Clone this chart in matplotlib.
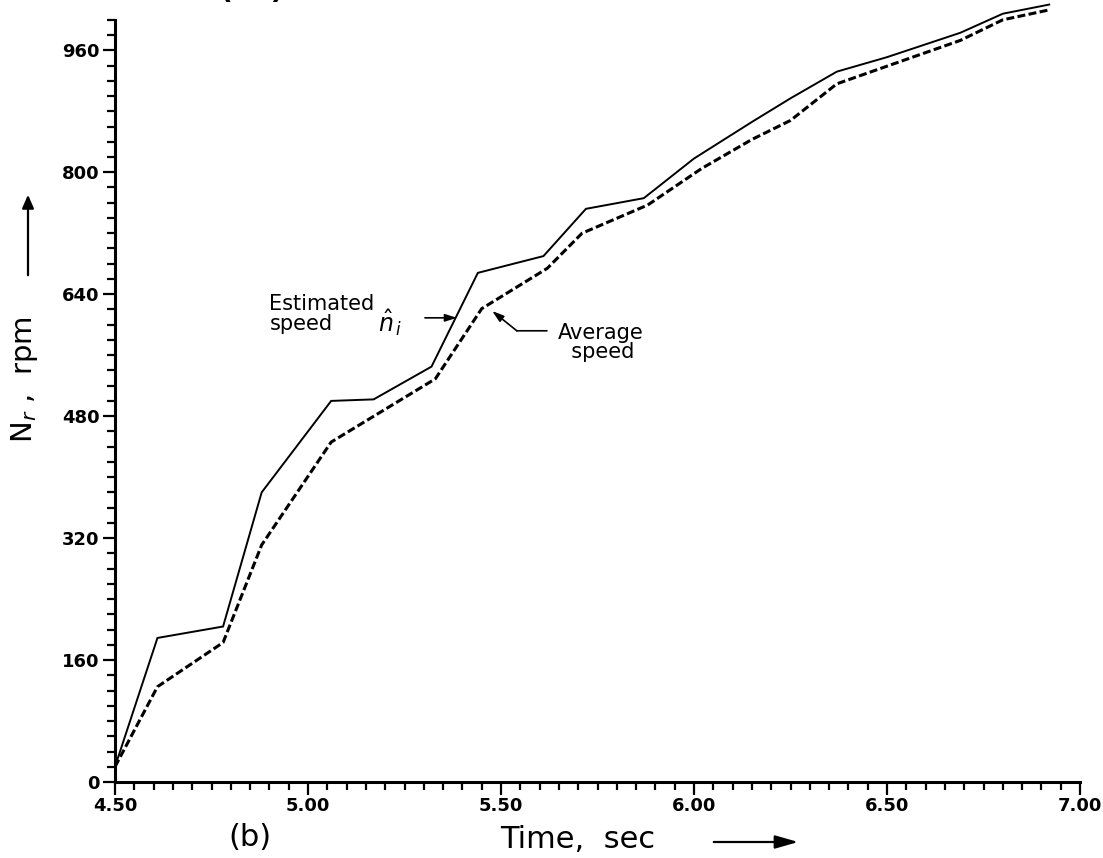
import matplotlib
matplotlib.use("Agg")
import matplotlib.pyplot as plt
from matplotlib.patches import FancyArrowPatch
from matplotlib.ticker import MultipleLocator, FixedLocator

plt.rcParams['font.family'] = ['DejaVu Sans']
plt.rcParams['mathtext.fontset'] = 'dejavusans'

# Rotor speed during run-up, t = 4.5 ... 7.0 s
time_est = [4.50, 4.61, 4.78, 4.88, 5.06, 5.17, 5.32, 5.44, 5.61, 5.72,
            5.87, 6.00, 6.15, 6.25, 6.37, 6.50, 6.69, 6.80, 6.92]
speed_est = [20, 189, 204, 380, 500, 502, 545, 668, 690, 752,
             766, 818, 866, 897, 932, 951, 983, 1008, 1020]

time_avg = [4.50, 4.61, 4.78, 4.88, 5.06, 5.33, 5.45, 5.62, 5.71, 5.88,
            6.02, 6.15, 6.25, 6.37, 6.69, 6.80, 6.92]
speed_avg = [20, 125, 183, 311, 446, 529, 621, 674, 720, 757,
             805, 843, 868, 916, 973, 1000, 1013]

x_major = [4.50, 5.00, 5.50, 6.00, 6.50, 7.00]
x_labels = ['4.50', '5.00', '5.50', '6.00', '6.50', '7.00']
y_major = [0, 160, 320, 480, 640, 800, 960]
y_labels = ['0', '160', '320', '480', '640', '800', '960']

W, H = 1103, 858
fig = plt.figure(figsize=(W / 100, H / 100), dpi=100)
ax = fig.add_axes([115 / W, (H - 782) / H, (1080 - 115) / W, 782 / H])

ax.plot(time_est, speed_est, color='black', lw=1.4, solid_joinstyle='miter')
ax.plot(time_avg, speed_avg, color='black', lw=2.2, dashes=(2.6, 1.1))

ax.set_xlim(4.5, 7.0)
ax.set_ylim(0, 1026)

for side in ('top', 'right'):
    ax.spines[side].set_visible(False)
for side in ('left', 'bottom'):
    ax.spines[side].set_linewidth(2.2)
ax.spines['left'].set_bounds(0, 1000)

ax.xaxis.set_major_locator(FixedLocator(x_major))
ax.set_xticklabels(x_labels)
ax.xaxis.set_minor_locator(MultipleLocator(0.05))
ax.yaxis.set_major_locator(FixedLocator(y_major))
ax.set_yticklabels(y_labels)
ax.yaxis.set_minor_locator(FixedLocator(list(range(0, 1001, 20))))

ax.tick_params(axis='both', which='major', direction='out', length=9,
               width=1.6, pad=2, labelsize=13)
ax.tick_params(axis='both', which='minor', direction='out', length=6,
               width=1.6)
for lab in ax.get_xticklabels() + ax.get_yticklabels():
    lab.set_fontweight('bold')

# curve annotations
ax.text(4.90, 614, 'Estimated\nspeed', fontsize=15, ha='left', va='center',
        linespacing=0.95)
ax.text(5.212, 602, r'$\hat{n}_{\,i}$', fontsize=17, ha='center', va='center')
ax.annotate('', xy=(5.386, 609), xytext=(5.303, 609),
            arrowprops=dict(arrowstyle='-|>,head_length=0.7,head_width=0.22',
                            color='black', lw=1.2, shrinkA=0, shrinkB=0))

ax.text(5.648, 577, 'Average\n  speed', fontsize=15, ha='left', va='center',
        linespacing=0.95)
ax.annotate('', xy=(5.541, 592), xytext=(5.619, 592),
            arrowprops=dict(arrowstyle='-', color='black', lw=1.2,
                            shrinkA=0, shrinkB=0))
ax.annotate('', xy=(5.477, 618), xytext=(5.541, 592),
            arrowprops=dict(arrowstyle='-|>,head_length=0.7,head_width=0.22',
                            color='black', lw=1.2, shrinkA=0, shrinkB=0))

# axis titles with direction arrows (figure-fraction coordinates)
fig.text(25 / W, 1 - 380 / H, r'N$_r$ ,  rpm', rotation=90, fontsize=21,
         ha='center', va='center')
fig.add_artist(FancyArrowPatch(
    (28 / W, 1 - 278 / H), (28 / W, 1 - 192 / H), transform=fig.transFigure,
    arrowstyle='-|>,head_length=8,head_width=3.5', color='black', lw=1.6,
    mutation_scale=1))

fig.text(500 / W, 1 - 840 / H, 'Time,  sec', fontsize=22, ha='left',
         va='center')
fig.add_artist(FancyArrowPatch(
    (711 / W, 1 - 842 / H), (801 / W, 1 - 842 / H), transform=fig.transFigure,
    arrowstyle='-|>,head_length=14,head_width=4', color='black', lw=1.6,
    mutation_scale=1))

fig.text(250 / W, 1 - 837 / H, '(b)', fontsize=22, ha='center', va='center')
# panel label of the figure above, running off the top edge
fig.text(252 / W, 1 + 1 / H, '( a )', fontsize=20, fontweight='bold',
         ha='center', va='baseline')

fig.savefig('out.png', dpi=100)
